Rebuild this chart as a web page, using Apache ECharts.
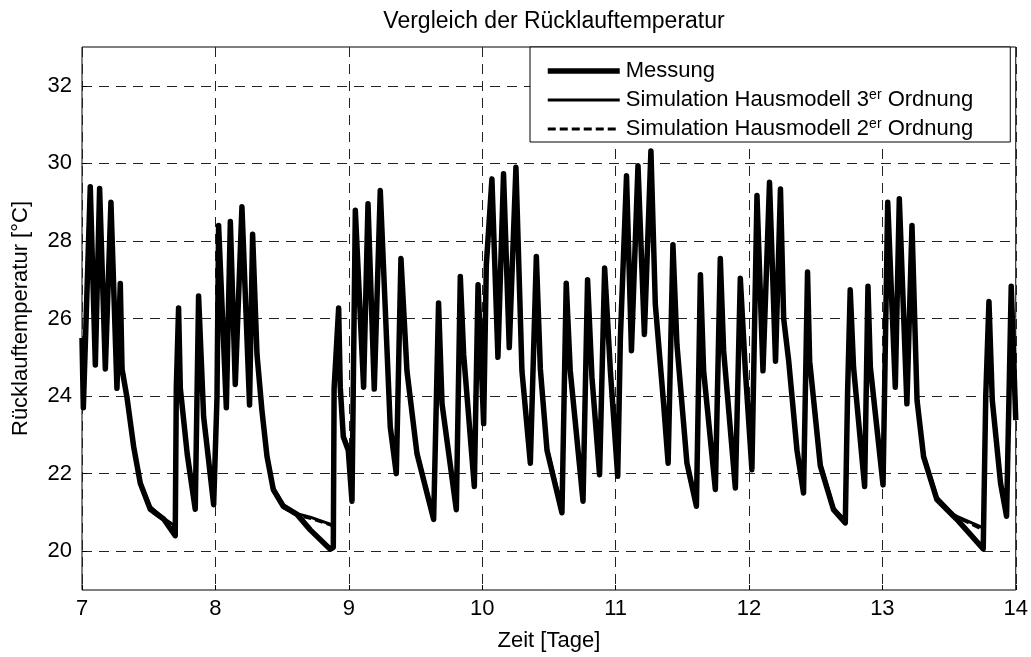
<!DOCTYPE html>
<html>
<head>
<meta charset="utf-8">
<script src="https://cdn.jsdelivr.net/npm/echarts@6/dist/echarts.min.js"></script>
<style>html,body{margin:0;padding:0;background:#fff}#c{width:1031px;height:657px}</style>
</head>
<body>
<div id="c"></div>
<script>
// Zeit [Tage]
const zeit = [
  7.000,7.010,7.062,7.100,7.132,7.175,7.217,7.262,7.287,7.300,7.337,7.387,7.437,7.512,7.612,7.699,7.707,7.724,7.737,7.789,7.849,7.874,7.912,7.987,
  8.012,8.024,8.082,8.112,8.149,8.199,8.256,8.279,8.312,8.349,8.387,8.434,8.509,8.612,8.711,8.861,8.884,8.890,8.924,8.936,8.959,8.996,
  9.024,9.049,9.111,9.144,9.191,9.236,9.311,9.356,9.391,9.436,9.511,9.636,9.673,9.699,9.806,9.836,9.861,9.941,9.969,
  10.011,10.031,10.073,10.118,10.160,10.203,10.253,10.298,10.361,10.406,10.436,10.486,10.598,10.630,10.660,10.756,10.790,10.823,10.880,10.918,10.961,
  11.016,11.036,11.082,11.119,11.168,11.216,11.265,11.298,11.360,11.394,11.430,11.460,11.535,11.606,11.636,11.660,11.748,11.785,11.810,11.898,11.935,11.973,
  12.022,12.060,12.105,12.154,12.199,12.236,12.260,12.298,12.360,12.409,12.439,12.455,12.535,12.634,12.722,12.739,12.759,12.784,12.867,12.892,12.910,
  13.005,13.040,13.097,13.127,13.184,13.222,13.260,13.309,13.409,13.534,13.559,13.756,13.775,13.799,13.824,13.886,13.931,13.966,14.000
];
// Messung
const messung = [
  25.5,23.7,29.4,24.8,29.35,24.7,29.0,24.2,26.9,24.7,23.97,22.7,21.75,21.08,20.83,20.4,24.2,26.27,24.2,22.5,21.08,26.58,23.46,21.2,
  23.97,28.4,23.7,28.5,24.3,28.88,23.77,28.17,25.07,23.63,22.44,21.59,21.16,20.95,20.55,20.05,20.1,24.2,26.27,24.23,22.95,22.6,
  21.29,28.79,24.23,28.96,24.18,29.3,23.2,22.0,27.55,24.65,22.52,20.82,26.4,23.8,21.07,27.08,25.08,21.67,26.87,
  23.29,27.38,29.6,25.0,29.73,25.25,29.9,24.65,22.27,27.6,24.7,22.6,20.99,26.91,24.66,21.29,27.0,24.48,21.97,27.3,24.65,
  21.93,25.5,29.68,25.17,29.94,25.59,30.32,26.36,23.8,22.27,27.9,25.33,22.27,21.16,27.13,24.65,21.59,27.55,25.17,21.63,27.04,24.65,
  22.1,29.17,24.65,29.51,24.9,29.34,26.0,24.9,22.6,21.5,27.2,24.9,22.2,21.07,20.73,24.05,26.74,24.74,21.67,26.83,24.74,
  21.71,29.0,24.23,29.09,23.8,28.4,23.89,22.44,21.33,20.9,20.82,20.06,24.0,26.44,23.89,21.75,20.9,26.83,23.38
];
// Simulation Hausmodell 3. Ordnung
const sim3 = [
  25.3,23.9,29.2,25.0,29.2,24.9,28.8,24.4,26.7,24.8,24.0,22.75,21.8,21.15,20.85,20.65,24.0,26.0,24.3,22.6,21.2,26.4,23.6,21.3,
  24.1,28.2,23.9,28.3,24.5,28.7,23.9,28.0,25.2,23.7,22.5,21.65,21.2,20.97,20.88,20.7,20.65,24.0,26.1,24.4,23.0,22.7,
  21.4,28.6,24.4,28.8,24.3,29.1,23.3,22.1,27.4,24.7,22.6,20.9,26.2,23.9,21.15,26.9,25.2,21.75,26.7,
  23.4,27.2,29.4,25.2,29.5,25.4,29.7,24.8,22.35,27.4,24.8,22.7,21.1,26.7,24.8,21.4,26.8,24.6,22.05,27.1,24.75,
  22.0,25.4,29.5,25.3,29.7,25.7,30.1,26.45,23.9,22.35,27.7,25.45,22.35,21.25,26.95,24.75,21.65,27.35,25.3,21.7,26.85,24.75,
  22.2,29.0,24.8,29.3,25.0,29.15,26.1,25.0,22.7,21.6,27.0,25.0,22.3,21.12,20.8,23.9,26.55,24.85,21.75,26.65,24.85,
  21.8,28.8,24.4,28.9,23.95,28.2,24.0,22.5,21.4,20.95,20.9,20.6,23.9,26.25,24.0,21.85,21.0,26.65,23.5
];
// Simulation Hausmodell 2. Ordnung
const sim2 = [
  25.4,23.8,29.3,24.9,29.1,24.8,28.9,24.3,26.8,24.9,23.9,22.65,21.7,21.05,20.8,20.6,24.1,26.1,24.4,22.5,21.1,26.5,23.5,21.25,
  24.0,28.3,23.8,28.4,24.4,28.8,23.8,28.1,25.1,23.6,22.4,21.55,21.12,20.93,20.85,20.68,20.62,24.1,26.2,24.3,22.9,22.6,
  21.35,28.7,24.3,28.9,24.25,29.2,23.25,22.05,27.5,24.6,22.5,20.85,26.3,23.85,21.1,27.0,25.1,21.7,26.8,
  23.3,27.3,29.5,25.1,29.6,25.3,29.8,24.7,22.3,27.5,24.75,22.65,21.05,26.8,24.7,21.35,26.9,24.5,22.0,27.2,24.7,
  21.95,25.45,29.6,25.2,29.8,25.65,30.2,26.4,23.85,22.3,27.8,25.4,22.3,21.2,27.05,24.7,21.6,27.45,25.2,21.65,26.95,24.7,
  22.15,29.1,24.7,29.4,24.95,29.25,26.05,24.95,22.65,21.55,27.1,24.95,22.25,21.1,20.76,24.0,26.65,24.8,21.7,26.75,24.8,
  21.75,28.9,24.3,29.0,23.85,28.3,23.95,22.45,21.35,20.92,20.88,20.55,24.0,26.35,23.95,21.8,20.95,26.75,23.45
];
const xTicks = [7, 8, 9, 10, 11, 12, 13, 14];
const yTicks = [20, 22, 24, 26, 28, 30, 32];
const seriesNames = ['Messung', 'Simulation Hausmodell 3er Ordnung', 'Simulation Hausmodell 2er Ordnung'];
const titleText = 'Vergleich der Rücklauftemperatur';
const xName = 'Zeit [Tage]';
const yName = 'Rücklauftemperatur [°C]';

const FONT = '"Liberation Sans", Arial, Helvetica, sans-serif';
const pairs = vals => zeit.map((t, i) => [t, vals[i]]);

const chart = echarts.init(document.getElementById('c'), null, { renderer: 'canvas' });
const gridDash = { color: '#222', width: 1, type: [10, 7] };
const styles = [
  { color: '#000', width: 5.5, join: 'round' },
  { color: '#000', width: 3, join: 'round' },
  { color: '#000', width: 3, type: [8, 4] }
];

chart.setOption({
  animation: false,
  backgroundColor: '#fff',
  title: {
    text: titleText, left: 549, textAlign: 'center', top: 5,
    textStyle: { fontFamily: FONT, fontSize: 23, fontWeight: 'normal', color: '#000' }
  },
  grid: { left: 82, right: 15, top: 47, bottom: 63, show: true, borderColor: '#000', borderWidth: 1, backgroundColor: 'transparent' },
  legend: {
    data: seriesNames.map((n, i) => ({ name: n, lineStyle: styles[i] })),
    orient: 'vertical',
    left: 530, top: 47,
    padding: [12, 37, 1, 15],
    itemGap: 5,
    itemWidth: 72, itemHeight: 14,
    backgroundColor: '#fff',
    borderColor: '#000', borderWidth: 1, borderRadius: 0,
    selectedMode: false,
    itemStyle: { opacity: 0, borderWidth: 0 },
    formatter: function (name) {
      return name.replace(/(\d)er /, '$1{sup|er} ');
    },
    textStyle: {
      fontFamily: FONT, fontSize: 22, color: '#000', lineHeight: 24, padding: [0, 0, 0, 1],
      rich: { sup: { fontFamily: FONT, fontSize: 14, lineHeight: 14, verticalAlign: 'top', color: '#000' } }
    }
  },
  xAxis: {
    type: 'value', min: 7, max: 14, interval: 1,
    name: xName, nameLocation: 'middle', nameGap: 40,
    nameTextStyle: { fontFamily: FONT, fontSize: 22, color: '#000' },
    axisLine: { show: false },
    axisTick: { show: true, inside: true, length: 5, lineStyle: { color: '#000' }, customValues: xTicks },
    axisLabel: { fontFamily: FONT, fontSize: 22, color: '#000', margin: 8, customValues: xTicks },
    splitLine: { show: true, lineStyle: gridDash }
  },
  yAxis: {
    type: 'value', min: 19, max: 33, interval: 1,
    name: yName, nameLocation: 'middle', nameGap: 50, nameRotate: 90,
    nameTextStyle: { fontFamily: FONT, fontSize: 22, color: '#000' },
    axisLine: { show: false },
    axisTick: { show: true, inside: true, length: 5, lineStyle: { color: '#000' }, customValues: yTicks },
    axisLabel: { fontFamily: FONT, fontSize: 22, color: '#000', margin: 10, customValues: yTicks },
    splitLine: { show: true, lineStyle: gridDash }
  },
  series: [
    { name: seriesNames[0], type: 'line', data: pairs(messung), symbol: 'none', z: 3, lineStyle: styles[0], itemStyle: { color: '#000' } },
    { name: seriesNames[1], type: 'line', data: pairs(sim3), symbol: 'none', z: 4, lineStyle: styles[1], itemStyle: { color: '#000' } },
    { name: seriesNames[2], type: 'line', data: pairs(sim2), symbol: 'none', z: 5, lineStyle: styles[2], itemStyle: { color: '#000' } }
  ]
});
</script>
</body>
</html>
